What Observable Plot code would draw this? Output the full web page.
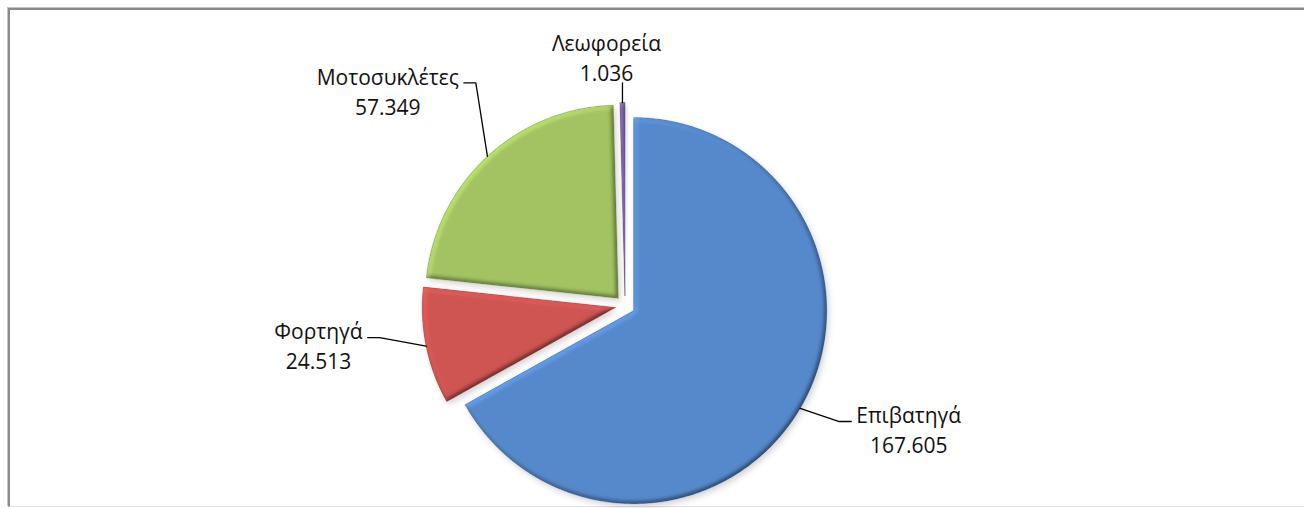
<!DOCTYPE html>
<html><head><meta charset="utf-8">
<script src="https://cdn.jsdelivr.net/npm/d3@7"></script>
<script src="https://cdn.jsdelivr.net/npm/@observablehq/plot@0.6"></script>
<style>
html,body{margin:0;padding:0;background:#fff;}
#wrap{position:relative;width:1304px;height:508px;overflow:hidden;background:#fff;}
#frame{position:absolute;left:8px;top:8px;width:1400px;height:496px;border-left:2px solid #8a8a8a;border-top:2px solid #8a8a8a;border-bottom:1px solid #e2e2e2;box-shadow:-1px -1px 0 #c4c4c4;}
#chart{position:absolute;left:0;top:0;}
</style></head><body>
<div id="wrap"><div id="frame"></div><div id="chart"></div></div>
<script>
// ---- data ----
const categories = ["Επιβατηγά", "Φορτηγά", "Μοτοσυκλέτες", "Λεωφορεία"];
const values = [167605, 24513, 57349, 1036];
const colors = ["#5689CC", "#CF5552", "#A3C462", "#7E62A2"];
const strokes = ["#3f6ea8", "#a9403d", "#7f9c45", "#5f4882"];

// ---- layout ----
const W = 1304, H = 508;
const cx = 624.6, cy = 305.1, R = 193, explode = 10;
const labelAngle = [113.2, 262.9, 312.1, 355.6];   // degrees, clockwise from top
const labelDist = [1.55, 1.55, 1.61, 1.245];       // in radii from slice centre
const fontSize = 21, fontFamily = "Open Sans", lineH = 30;

const fmt = d3.formatLocale({decimal: ",", thousands: ".", grouping: [3], currency: ["", "€"]}).format(",d");
const total = d3.sum(values);
const rad = d => d * Math.PI / 180;

const ctx = document.createElement("canvas").getContext("2d");
ctx.font = `${fontSize}px '${fontFamily}'`;

const slicePts = [], labels = [], leaders = [];
let acc = 0;
values.forEach((v, i) => {
  const a0 = acc / total * 360, a1 = (acc + v) / total * 360;
  acc += v;
  const mid = (a0 + a1) / 2;
  const sx = cx + explode * Math.sin(rad(mid)), sy = cy - explode * Math.cos(rad(mid));
  const pts = [{k: i, x: sx, y: sy}];
  const n = Math.max(4, Math.ceil((a1 - a0) / 0.5));
  for (let j = 0; j <= n; j++) {
    const a = rad(a0 + (a1 - a0) * j / n);
    pts.push({k: i, x: sx + R * Math.sin(a), y: sy - R * Math.cos(a)});
  }
  pts.push({k: i, x: sx, y: sy});
  slicePts.push(pts);

  const txt = categories[i] + "\n" + fmt(v);
  const la = rad(labelAngle[i]);
  const lx = sx + labelDist[i] * R * Math.sin(la), ly = sy - labelDist[i] * R * Math.cos(la);
  labels.push({x: lx, y: ly, text: txt});
  const ex = sx + R * Math.sin(rad(mid)), ey = sy - R * Math.cos(rad(mid));
  const hw = Math.max(ctx.measureText(categories[i]).width, ctx.measureText(fmt(v)).width) / 2;
  if (Math.abs(Math.sin(la)) > 0.5) {
    const side = Math.sign(Math.sin(la));
    const endX = lx - side * (hw + 5), endY = ly - 7;
    leaders.push({k: i, x: ex, y: ey}, {k: i, x: endX - side * 12, y: endY}, {k: i, x: endX, y: endY});
  } else {
    leaders.push({k: i, x: ex, y: ey}, {k: i, x: ex, y: ly + 27});
  }
});

const chart = Plot.plot({
  width: W, height: H, margin: 0,
  x: {domain: [0, W], range: [0, W], axis: null},
  y: {domain: [0, H], range: [0, H], axis: null},
  marks: [
    ...slicePts.map((pts) => Plot.line(pts, {x: "x", y: "y", dx: 2, dy: 3, fill: "#000", fillOpacity: 0.18, stroke: "none", ariaDescription: "shadow"})),
    ...slicePts.map((pts, i) => Plot.line(pts, {x: "x", y: "y", fill: colors[i], stroke: strokes[i], strokeWidth: 0.8, strokeOpacity: 0.6, ariaDescription: "slice"})),
    ...slicePts.map((pts, i) => Plot.line(pts, {x: "x", y: "y", fill: colors[i], stroke: "none", ariaDescription: "bevel"})),
    Plot.line(leaders, {x: "x", y: "y", z: "k", stroke: "#000", strokeWidth: 1.3}),
    Plot.text(labels, {x: "x", y: "y", text: "text", fontSize, fontFamily, lineHeight: lineH / fontSize, textAnchor: "middle", lineAnchor: "middle", fill: "#111"})
  ]
});

const svg = d3.select(chart);
const defs = svg.insert("defs", ":first-child");
const sf = defs.append("filter").attr("id", "softshadow")
  .attr("x", "-20%").attr("y", "-20%").attr("width", "140%").attr("height", "140%");
sf.append("feGaussianBlur").attr("stdDeviation", 3);
const f = defs.append("filter")
  .attr("id", "bevel").attr("x", "-10%").attr("y", "-10%").attr("width", "120%").attr("height", "120%")
  .attr("color-interpolation-filters", "sRGB");
f.append("feGaussianBlur").attr("in", "SourceAlpha").attr("stdDeviation", 2.5).attr("result", "blur");
f.append("feDiffuseLighting").attr("in", "blur").attr("surfaceScale", 2).attr("diffuseConstant", 1)
  .attr("lighting-color", "#ffffff").attr("result", "light")
  .append("feDistantLight").attr("azimuth", 225).attr("elevation", 62);
f.append("feComposite").attr("in", "SourceGraphic").attr("in2", "light").attr("operator", "arithmetic")
  .attr("k1", 1.13).attr("k2", 0).attr("k3", 0).attr("k4", 0).attr("result", "lit");
f.append("feComposite").attr("in", "lit").attr("in2", "SourceAlpha").attr("operator", "in");
svg.selectAll('g[aria-description="shadow"]').attr("filter", "url(#softshadow)");
svg.selectAll('g[aria-description="bevel"] path').attr("filter", "url(#bevel)");
svg.style("background", "transparent");
document.getElementById("chart").appendChild(chart);
</script>
</body></html>
